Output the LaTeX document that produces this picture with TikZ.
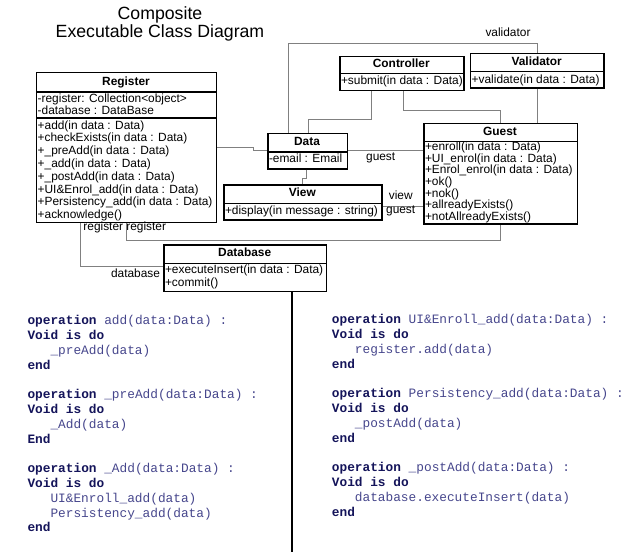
\documentclass[tikz,border=0pt]{standalone}
\usepackage{fontspec}
\setmainfont{Liberation Sans}
\newfontfamily\codefont{Liberation Mono}
\definecolor{kwc}{RGB}{20,20,90}
\definecolor{idc}{RGB}{70,70,140}
\definecolor{connc}{RGB}{128,128,128}
\newcommand\kw[1]{\textcolor{kwc}{\bfseries #1}}
\begin{document}
\begin{tikzpicture}[x=1pt,y=-1pt,
  box/.style={draw, line width=1.3pt, inner sep=0, anchor=north west},
  sep/.style={line width=1.1pt},
  txt/.style={inner sep=0, text height=8.6pt, text depth=2.5pt, font=\fontsize{11.9}{12.7}\selectfont},
  member/.style={txt, anchor=west},
  head/.style={txt, font=\fontsize{11.9}{12.7}\selectfont\bfseries},
  conn/.style={draw=connc, line width=0.9pt},
  lbl/.style={txt},
  code/.style={inner sep=0, anchor=west, text height=9pt, text depth=2.7pt, font=\fontsize{12.8}{14.8}\codefont, text=idc},
  title/.style={inner sep=0, font=\fontsize{17.7}{20}\selectfont}
]
\useasboundingbox (0,0) rectangle (634,552);

% title
\node[title] (t1) at (160,15) {Composite};
\node[title] (t2) at (160,33.3) {Executable Class Diagram};

% Register
\node[box, minimum width=180pt, minimum height=150pt] (reg) at (36,72) {};
\draw[sep] (reg.north west) ++(0,20) -- ++(180,0);
\draw[sep] (reg.north west) ++(0,46) -- ++(180,0);
\node[head] (reg-h) at (126,82) {Register};
\node[member] (reg-a1) at (37.5,99) {-register: Collection<object>};
\node[member] (reg-a2) at (37.5,111) {-database : DataBase};
\foreach \t [count=\i] in {{+add(in data : Data)},{+checkExists(in data : Data)},{+\_preAdd(in data : Data)},{+\_add(in data : Data)},{+\_postAdd(in data : Data)},{+UI\&Enrol\_add(in data : Data)},{+Persistency\_add(in data : Data)},{+acknowledge()}}
  \node[member] (reg-m\i) at (37.5,{113.2+12.8*\i}) {\t};

% Data
\node[box, minimum width=79.4pt, minimum height=35.6pt] (data) at (267.3,132.7) {};
\draw[sep] (data.north west) ++(0,19.3) -- ++(79.4,0);
\node[head] (data-h) at (307,142.3) {Data};
\node[member] (data-a1) at (268.8,159.5) {-email : Email};

% View
\node[box, minimum width=158pt, minimum height=35pt] (view) at (223.3,184.3) {};
\draw[sep] (view.north west) ++(0,19) -- ++(158,0);
\node[head] (view-h) at (302.3,193.5) {View};
\node[member] (view-m1) at (224.8,211) {+display(in message : string)};

% Database
\node[box, minimum width=162.7pt, minimum height=46.4pt] (db) at (163.3,244.3) {};
\draw[sep] (db.north west) ++(0,19) -- ++(162.7,0);
\node[head] (db-h) at (244.7,253.5) {Database};
\node[member] (db-m1) at (164.8,270.7) {+executeInsert(in data : Data)};
\node[member] (db-m2) at (164.8,283.3) {+commit()};

% Guest
\node[box, minimum width=153.4pt, minimum height=100.6pt] (guest) at (423.3,122.7) {};
\draw[sep] (guest.north west) ++(0,19) -- ++(153.4,0);
\node[head] (guest-h) at (500,132) {Guest};
\foreach \t [count=\i] in {{+enroll(in data : Data)},{+UI\_enrol(in data : Data)},{+Enrol\_enrol(in data : Data)},{+ok()},{+nok()},{+allreadyExists()},{+notAllreadyExists()}}
  \node[member] (guest-m\i) at (424.8,{135.9+11.66*\i}) {\t};

% Controller
\node[box, minimum width=124pt, minimum height=34pt] (ctrl) at (339.3,55.5) {};
\draw[sep] (ctrl.north west) ++(0,18) -- ++(124,0);
\node[head] (ctrl-h) at (401.3,64.5) {Controller};
\node[member] (ctrl-m1) at (340.8,81.7) {+submit(in data : Data)};

% Validator
\node[box, minimum width=133.3pt, minimum height=34.6pt] (val) at (470,52.7) {};
\draw[sep] (val.north west) ++(0,19) -- ++(133.3,0);
\node[head] (val-h) at (536.7,62) {Validator};
\node[member] (val-m1) at (471.5,80) {+validate(in data : Data)};

% connectors
\draw[conn] ([xshift=21pt]data.north west) -- ++(0,-89.4) -| ([xshift=67.7pt]val.north west);
\draw[conn] ([xshift=67.7pt]val.south west) -- ([xshift=114.4pt]guest.north west);
\draw[conn] ([xshift=32.4pt]ctrl.south west) -- ++(0,28.8) -| ([xshift=41pt]data.north west);
\draw[conn] ([xshift=64pt]ctrl.south west) -- ++(0,19.5) -| ([xshift=76.7pt]guest.north west);
\draw[conn] ([yshift=-75.7pt]reg.north east) -- ++(35.7,0) -- ++(0,2.3) -- ([yshift=-17.3pt]data.north west);
\draw[conn] ([yshift=-17.3pt]data.north east) -- ([yshift=-27.3pt]guest.north west);
\draw[conn] ([xshift=39.4pt]data.south west) -- ++(0,9) -| ([xshift=79.4pt]view.north west);
\draw[conn] ([yshift=-21.7pt]view.north east) -- ([yshift=-83.3pt]guest.north west);
\draw[conn] ([xshift=90.7pt]reg.south west) -- ++(0,17) -| ([xshift=76.7pt]guest.south west);
\draw[conn] ([xshift=44.7pt]reg.south west) |- ([yshift=-22.4pt]db.north west);
\coordinate (bot) at (292.3,552);
\draw[line width=2pt] ([xshift=129pt]db.south west) -- (bot);

% labels
\node[lbl] (l-val) at (508,33.3) {validator};
\node[lbl] (l-guest1) at (380.7,157.3) {guest};
\node[lbl] (l-view) at (400.7,196) {view};
\node[lbl] (l-guest2) at (400.7,210) {guest};
\node[lbl] (l-reg1) at (103.3,227.7) {register};
\node[lbl] (l-reg2) at (146.2,227.7) {register};
\node[lbl] (l-db) at (135.5,274) {database};

% code left
\node[code] (c1) at (27.3,321.5) {\kw{operation} add(data:Data) :};
\node[code] (c2) at (27.3,336.3) {\kw{Void is do}};
\node[code] (c3) at (50.3,351.1) {\_preAdd(data)};
\node[code] (c4) at (27.3,365.9) {\kw{end}};
\node[code] (c5) at (27.3,395.5) {\kw{operation} \_preAdd(data:Data) :};
\node[code] (c6) at (27.3,410.3) {\kw{Void is do}};
\node[code] (c7) at (50.3,425.1) {\_Add(data)};
\node[code] (c8) at (27.3,439.9) {\kw{End}};
\node[code] (c9) at (27.3,469.5) {\kw{operation} \_Add(data:Data) :};
\node[code] (c10) at (27.3,484.3) {\kw{Void is do}};
\node[code] (c11) at (50.3,499.1) {UI\&Enroll\_add(data)};
\node[code] (c12) at (50.3,513.9) {Persistency\_add(data)};
\node[code] (c13) at (27.3,528.7) {\kw{end}};

% code right
\node[code] (d1) at (331.7,320.7) {\kw{operation} UI\&Enroll\_add(data:Data) :};
\node[code] (d2) at (331.7,335.5) {\kw{Void is do}};
\node[code] (d3) at (354.7,350.3) {register.add(data)};
\node[code] (d4) at (331.7,365.1) {\kw{end}};
\node[code] (d5) at (331.7,394.7) {\kw{operation} Persistency\_add(data:Data) :};
\node[code] (d6) at (331.7,409.5) {\kw{Void is do}};
\node[code] (d7) at (354.7,424.3) {\_postAdd(data)};
\node[code] (d8) at (331.7,439.1) {\kw{end}};
\node[code] (d9) at (331.7,468.7) {\kw{operation} \_postAdd(data:Data) :};
\node[code] (d10) at (331.7,483.5) {\kw{Void is do}};
\node[code] (d11) at (354.7,498.3) {database.executeInsert(data)};
\node[code] (d12) at (331.7,513.1) {\kw{end}};
\end{tikzpicture}
\end{document}
